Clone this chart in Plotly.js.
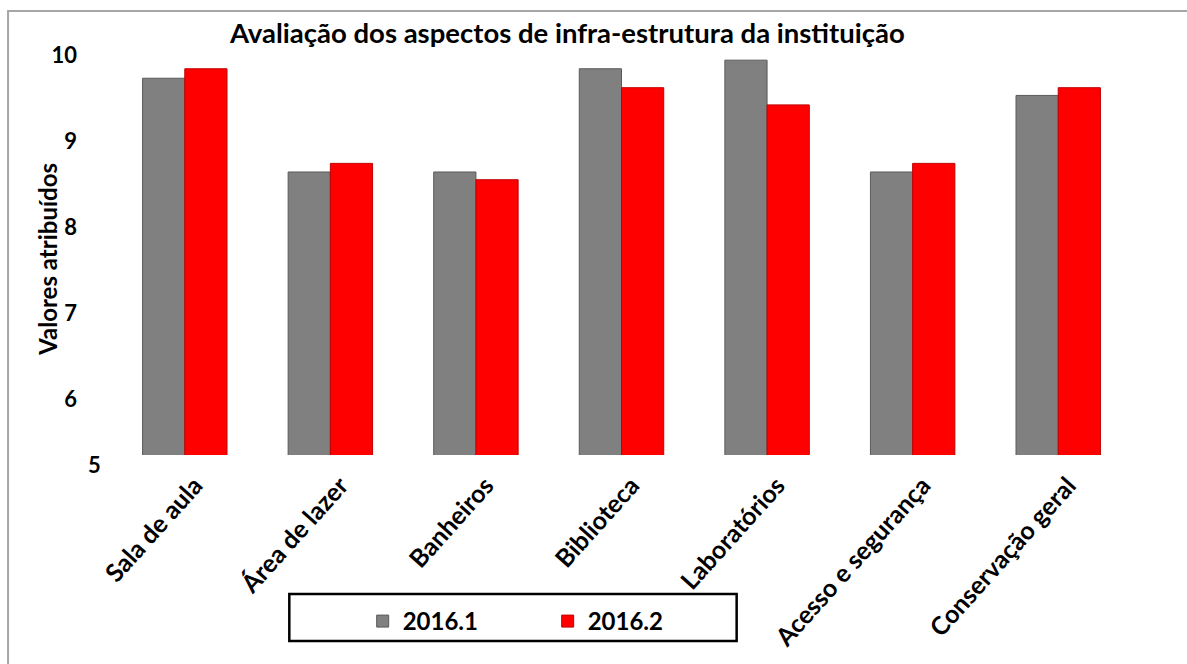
<!DOCTYPE html>
<html>
<head>
<meta charset="utf-8">
<script src="https://cdn.plot.ly/plotly-3.0.1.min.js"></script>
<style>html,body{margin:0;padding:0;background:#fff;}#chart{width:1187px;height:664px;}</style>
</head>
<body>
<div id="chart"></div>
<script>
const categories = ["Sala de aula", "Área de lazer", "Banheiros", "Biblioteca", "Laboratórios", "Acesso e segurança", "Conservação geral"];
const series1Name = "2016.1";
const series2Name = "2016.2";
const values2016_1 = [9.73, 8.64, 8.64, 9.84, 9.94, 8.64, 9.53];
const values2016_2 = [9.84, 8.74, 8.55, 9.62, 9.42, 8.74, 9.62];
const yTicks = [6, 7, 8, 9, 10];

const fontFam = "Lato, 'Open Sans', 'Liberation Sans', sans-serif";

const traces = [
  {type: 'bar', name: series1Name, x: categories, y: values2016_1,
   marker: {color: '#808080', line: {color: '#5a5a5a', width: 1}}, hoverinfo: 'x+y'},
  {type: 'bar', name: series2Name, x: categories, y: values2016_2,
   marker: {color: '#ff0000', line: {color: '#c00000', width: 1}}, hoverinfo: 'x+y'}
];

const layout = {
  width: 1187, height: 664,
  margin: {l: 112, r: 56, t: 55, b: 209},
  paper_bgcolor: '#ffffff', plot_bgcolor: '#ffffff',
  barmode: 'group', bargap: 0.42, bargroupgap: 0,
  title: {text: 'Avaliação dos aspectos de infra-estrutura da instituição',
          font: {family: fontFam, size: 27.5, color: '#000', weight: 'bold'},
          x: 0.478, xanchor: 'center', y: 0.95, yanchor: 'middle'},
  xaxis: {type: 'category', range: [-0.5, 6.5], showgrid: false, showline: false, zeroline: false,
          tickangle: -48, ticks: '', ticklabelstandoff: 10, ticklabelshift: 10,
          tickfont: {family: fontFam, size: 25, color: '#000', weight: 'bold'}},
  yaxis: {range: [5.35, 10.0], tickvals: yTicks, ticktext: yTicks.map(String),
          showgrid: false, showline: false, zeroline: false, ticks: '', ticklabelstandoff: 34,
          tickfont: {family: fontFam, size: 22, color: '#000', weight: 'bold'}},
  showlegend: true,
  legend: {orientation: 'h', x: 0.246, xanchor: 'left', y: -0.36, yanchor: 'top',
           entrywidth: 140, entrywidthmode: 'pixels', bgcolor: 'rgba(0,0,0,0)', borderwidth: 0,
           font: {family: fontFam, size: 24, color: '#000', weight: 'bold'}, itemclick: false},
  shapes: [
    {type: 'rect', xref: 'paper', yref: 'paper', x0: -0.102, x1: 1.2, y0: -0.7, y1: 1.11,
     line: {color: '#a6a6a6', width: 2}, fillcolor: 'rgba(0,0,0,0)', layer: 'below'},
    {type: 'rect', xref: 'paper', yref: 'paper', x0: 0.174, x1: 0.613, y0: -0.3475, y1: -0.465,
     line: {color: '#000000', width: 2.5}, fillcolor: 'rgba(0,0,0,0)'}
  ],
  annotations: [
    {text: '5', xref: 'paper', yref: 'paper', x: -0.009, y: -0.025, xanchor: 'right', yanchor: 'middle',
     showarrow: false, font: {family: fontFam, size: 22, color: '#000', weight: 'bold'}},
    {text: 'Valores atribuídos', xref: 'paper', yref: 'paper', x: -0.064, y: 0.49, xanchor: 'center', yanchor: 'middle',
     textangle: -90, showarrow: false, font: {family: fontFam, size: 24, color: '#000', weight: 'bold'}}
  ]
};

Plotly.newPlot('chart', traces, layout, {displayModeBar: false, staticPlot: true});
</script>
</body>
</html>
